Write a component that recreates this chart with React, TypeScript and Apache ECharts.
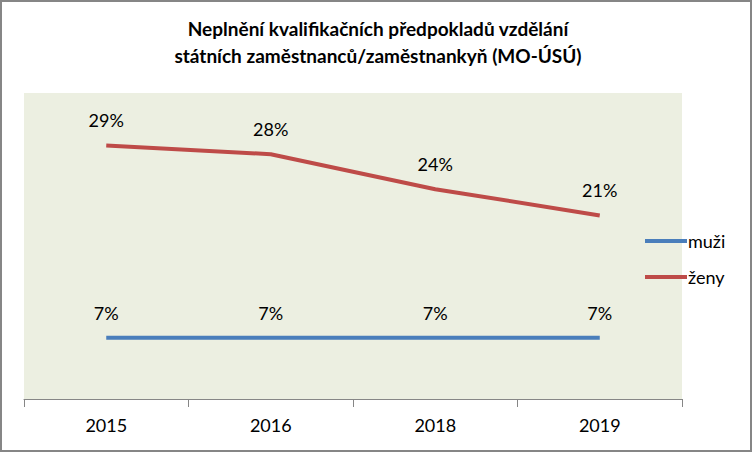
import React, { useEffect, useRef } from "react";
import * as echarts from "echarts";

const categories = ["2015", "2016", "2018", "2019"];
const muzi = [7, 7, 7, 7];
const zeny = [29, 28, 24, 21];
const seriesNames = ["muži", "ženy"];
const titleLines = [
  "Neplnění kvalifikačních předpokladů vzdělání",
  "státních zaměstnanců/zaměstnankyň (MO-ÚSÚ)",
];

const FONT = "Lato, 'Open Sans', sans-serif";

export default function App() {
  const ref = useRef<HTMLDivElement>(null);
  useEffect(() => {
    if (!ref.current) return;
    const chart = echarts.init(ref.current, undefined, { renderer: "svg" });
    const labelCfg = {
      show: true,
      position: "top" as const,
      distance: 16,
      fontFamily: FONT,
      fontSize: 18,
      color: "#000",
      formatter: (p: any) => p.value + "%",
    };
    chart.setOption({
      animation: false,
      backgroundColor: "#fff",
      title: {
        text: titleLines.join("\n"),
        left: 373,
        textAlign: "center",
        top: 10,
        textStyle: {
          fontFamily: FONT,
          fontWeight: "bold",
          fontSize: 19,
          lineHeight: 27,
          color: "#000",
        },
      },
      graphic: [
        {
          type: "rect",
          shape: { x: 1, y: 1, width: 750, height: 450 },
          style: { fill: "none", stroke: "#868686", lineWidth: 2 },
          silent: true,
        },
      ],
      legend: {
        orient: "vertical",
        left: 640,
        top: 225,
        icon: "rect",
        itemWidth: 42,
        itemHeight: 4,
        itemGap: 14,
        data: seriesNames,
        textStyle: {
          fontFamily: FONT,
          fontSize: 18,
          lineHeight: 22,
          color: "#000",
          padding: [0, 0, 0, -4],
        },
      },
      grid: {
        left: 24,
        top: 93,
        width: 658,
        height: 306,
        show: true,
        backgroundColor: "#ECEFE1",
        borderWidth: 0,
      },
      xAxis: {
        type: "category",
        data: categories,
        boundaryGap: true,
        axisLine: { lineStyle: { color: "#868686", width: 1 } },
        axisTick: { show: true, length: 8, interval: 0, lineStyle: { color: "#868686" } },
        axisLabel: {
          fontFamily: FONT,
          fontSize: 18,
          color: "#000",
          margin: 17,
        },
      },
      yAxis: {
        type: "value",
        min: 0,
        max: 35,
        show: false,
        splitLine: { show: false },
      },
      series: [
        {
          name: seriesNames[0],
          type: "line",
          data: muzi,
          showSymbol: true,
          symbol: "circle",
          symbolSize: 0,
          lineStyle: { color: "#4A7EBB", width: 4 },
          itemStyle: { color: "#4A7EBB" },
          label: labelCfg,
        },
        {
          name: seriesNames[1],
          type: "line",
          data: zeny,
          showSymbol: true,
          symbol: "circle",
          symbolSize: 0,
          lineStyle: { color: "#BE4B48", width: 4 },
          itemStyle: { color: "#BE4B48" },
          label: labelCfg,
        },
      ],
    });
    return () => chart.dispose();
  }, []);
  return (
    <div
      ref={ref}
      style={{ position: "absolute", left: 0, top: 0, width: 752, height: 452 }}
    />
  );
}
